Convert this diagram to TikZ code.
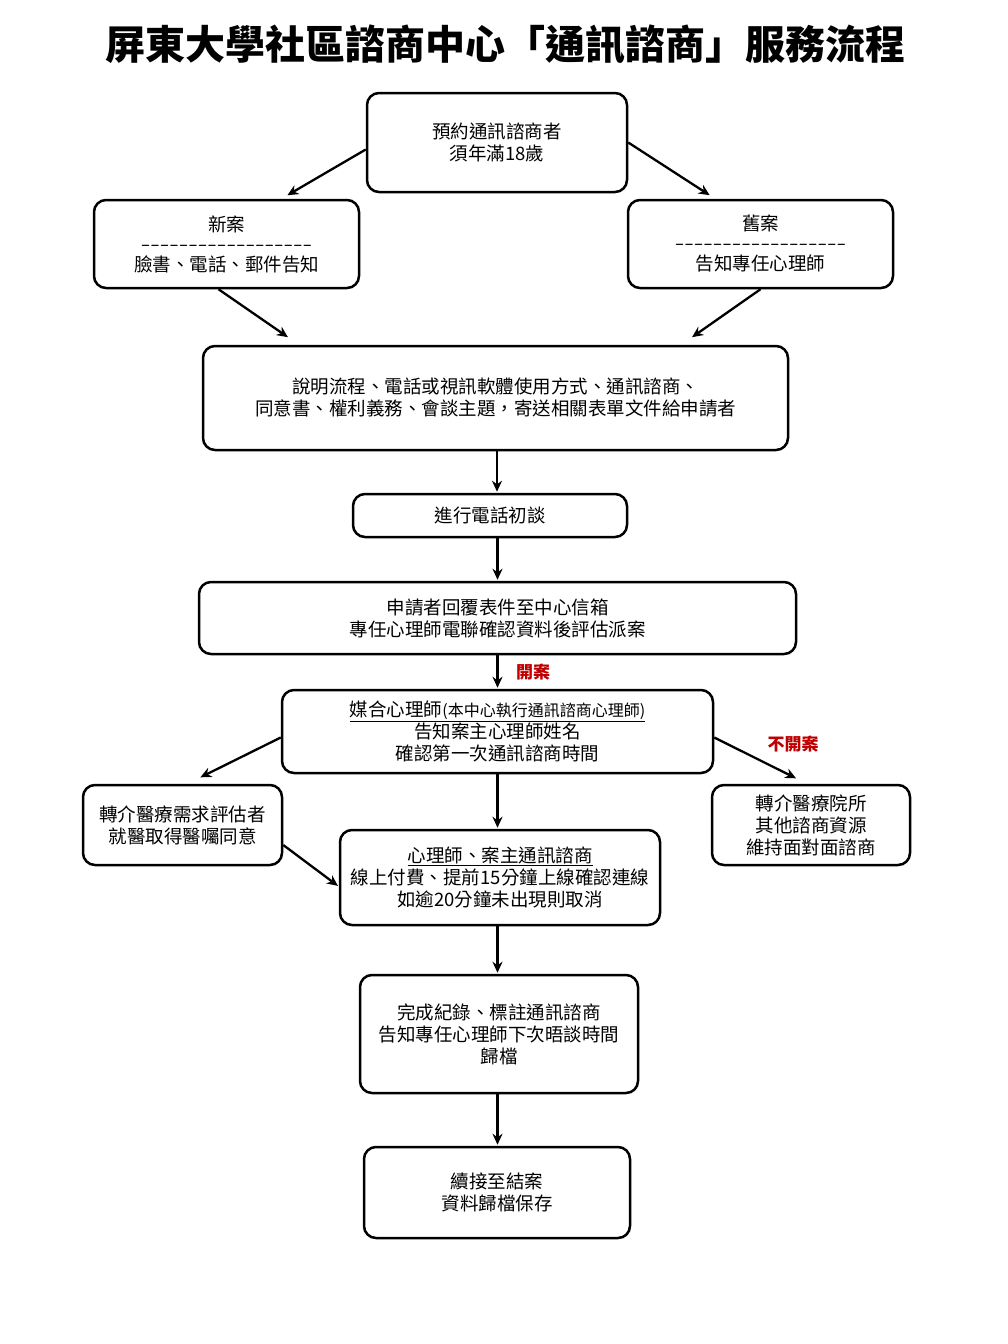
\documentclass[tikz,border=0pt]{standalone}
\usepackage{fontspec}
\setmainfont{Noto Sans CJK TC}
\usepackage{tikz}
\usetikzlibrary{arrows.meta}
\definecolor{rouge}{RGB}{192,0,0}
\newcommand{\taille}{\fontsize{18.5}{22}\selectfont}
\tikzstyle{etape}=[rectangle, rounded corners=12pt, line width=2.5pt, draw=black, fill=white, inner sep=0pt, align=center, font=\taille]
\tikzstyle{fleche}=[->, line width=2.3pt, shorten >=1pt]
\tikzstyle{decision}=[text=rouge, font=\fontsize{17}{17}\selectfont\bfseries]
\newcommand{\tirets}{\texttt{\foreach \t in {1,...,18}{-}}}
\newcommand{\fl}[2]{ \draw[fleche] (#1) -- (#2); }

\begin{document}
\begin{tikzpicture}[x=1pt, y=-1pt, >={Stealth[length=11pt,width=10pt]}]

 \useasboundingbox (0,0) rectangle (1008,1344);

 % titre
 \node[font=\fontsize{40}{40}\selectfont\bfseries] (titre) at (505,45) {屏東大學社區諮商中心「通訊諮商」服務流程};

 % etapes
 \node[etape, minimum width=260pt, minimum height=99pt] (debut) at (497,142.5) {預約通訊諮商者\\須年滿18歲};
 \node[etape, minimum width=265pt, minimum height=88pt] (nouveau) at (226.5,244) {新案\\[-2pt]\tirets\\[-2pt]臉書、電話、郵件告知};
 \node[etape, minimum width=265pt, minimum height=88pt] (ancien) at (760.5,244) {舊案\\[-2pt]\tirets\\[-2pt]告知專任心理師};
 \node[etape, minimum width=585pt, minimum height=104pt] (info) at (495.5,398) {說明流程、電話或視訊軟體使用方式、通訊諮商、\\同意書、權利義務、會談主題，寄送相關表單文件給申請者};
 \node[etape, minimum width=274pt, minimum height=43pt] (appel) at (490,515.5) {進行電話初談};
 \node[etape, minimum width=597pt, minimum height=72pt] (retour) at (497.5,618) {申請者回覆表件至中心信箱\\專任心理師電聯確認資料後評估派案};
 \node[etape, minimum width=431pt, minimum height=83pt] (jumelage) at (497.5,731.5) {\underline{媒合心理師{\fontsize{16}{16}\selectfont(本中心執行通訊諮商心理師)}}\\告知案主心理師姓名\\確認第一次通訊諮商時間};
 \node[etape, minimum width=199pt, minimum height=80pt] (medical) at (182.5,825) {轉介醫療需求評估者\\就醫取得醫囑同意};
 \node[etape, minimum width=198pt, minimum height=80pt] (renvoi) at (811,825) {轉介醫療院所\\其他諮商資源\\維持面對面諮商};
 \node[etape, minimum width=320pt, minimum height=95pt] (seance) at (500,877.5) {\underline{心理師、案主通訊諮商}\\線上付費、提前15分鐘上線確認連線\\如逾20分鐘未出現則取消};
 \node[etape, minimum width=278pt, minimum height=118pt] (dossier) at (499,1034) {完成紀錄、標註通訊諮商\\告知專任心理師下次晤談時間\\歸檔};
 \node[etape, minimum width=266pt, minimum height=91pt] (fin) at (497,1192.5) {續接至結案\\資料歸檔保存};

 % fleches
 \fl{[yshift=-7pt]debut.west}{[xshift=60pt,yshift=3pt]nouveau.north}
 \fl{debut.east}{[xshift=-50pt,yshift=3pt]ancien.north}
 \fl{[xshift=-8pt]nouveau.south}{[xshift=87pt,yshift=7pt]info.north west}
 \fl{ancien.south}{[xshift=-98pt,yshift=7pt]info.north east}
 \fl{[xshift=1.5pt]info.south}{[xshift=1.5pt]info.south |- appel.north}
 \fl{retour.north |- appel.south}{retour.north}
 \fl{retour.south}{jumelage.north}
 \fl{[yshift=-6pt]jumelage.west}{[xshift=17pt,yshift=6pt]medical.north}
 \fl{[yshift=-6pt]jumelage.east}{[xshift=-14pt,yshift=5pt]renvoi.north}
 \fl{jumelage.south}{jumelage.south |- seance.north}
 \fl{[yshift=-20pt]medical.east}{[yshift=-9pt]seance.west}
 \fl{jumelage.south |- seance.south}{jumelage.south |- dossier.north}
 \fl{jumelage.south |- dossier.south}{jumelage.south |- fin.north}

 % decisions
 \node[decision] (ouvert) at (533,672) {開案};
 \node[decision] (ferme) at (793,744) {不開案};

\end{tikzpicture}
\end{document}
